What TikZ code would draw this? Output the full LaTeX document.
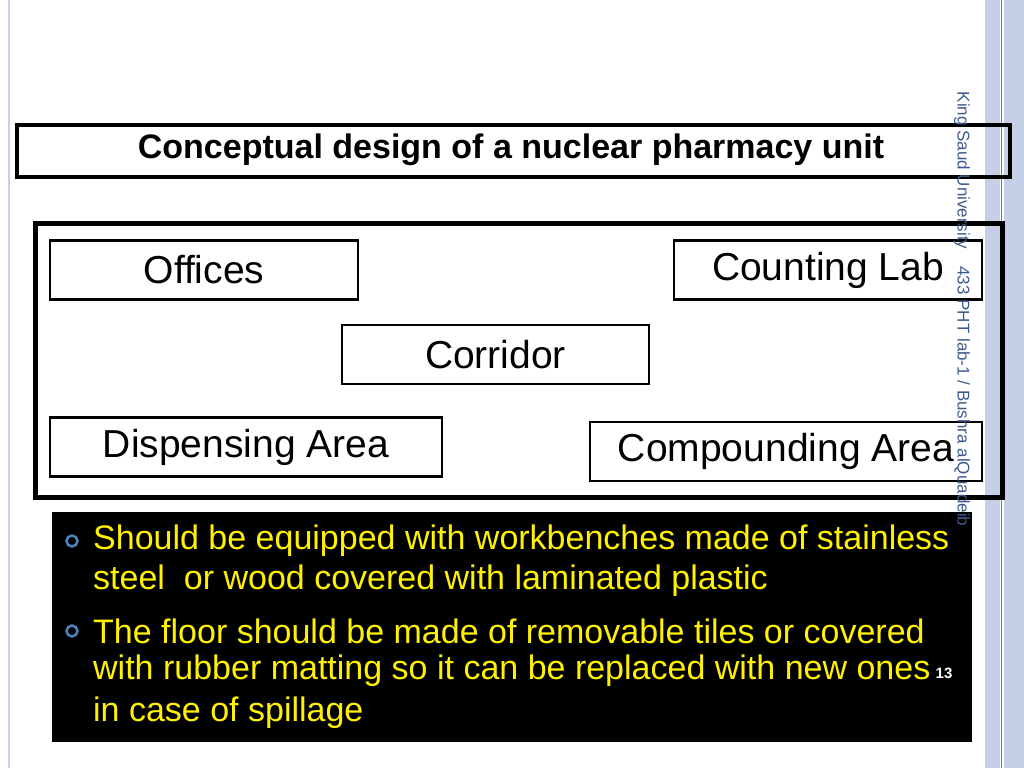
\documentclass[tikz,border=0pt]{standalone}
\usepackage{fontspec}
\setmainfont{Liberation Sans}
\definecolor{steel}{HTML}{4F81BD}
\definecolor{band}{HTML}{C5D0E6}
\definecolor{vtxt}{HTML}{3F5A8F}
\begin{document}
\begin{tikzpicture}[x=1pt,y=-1pt,
  room/.style={draw=black,line width=2.5pt,fill=white,font=\fontsize{39}{44}\selectfont,inner sep=0pt},
  bul/.style={text=yellow,font=\fontsize{34}{40}\selectfont,anchor=west,inner sep=0pt}]
\useasboundingbox (0,0) rectangle (1024,768);
\fill[white] (0,0) rectangle (1024,768);
\fill[band] (985,0) rectangle (1000,768);
\fill[band] (1004,0) rectangle (1024,768);
\draw[steel,line width=0.8pt] (1001,0) -- (1001,768);
\draw[band,line width=1.5pt] (9,0) -- (9,768);
\node[draw=black,line width=4pt,minimum width=993pt,minimum height=52pt,anchor=north west,inner sep=0pt] (title) at (15,123) {};
\node[font=\fontsize{34}{38}\selectfont\bfseries] (tt) at (511,150) {Conceptual design of a nuclear pharmacy unit};
\node[draw=black,line width=5pt,minimum width=967pt,minimum height=274pt,anchor=north west,inner sep=0pt] (outer) at (33,221) {};
\node[room,minimum width=308pt,minimum height=59pt] (off) at (204,270) {Offices};
\node[room,minimum width=308pt,minimum height=59pt] (cnt) at (828,270) {Counting Lab};
\node[room,minimum width=307pt,minimum height=59pt] (cor) at (495.5,354.5) {Corridor};
\node[room,minimum width=392pt,minimum height=59pt] (dis) at (246,447) {\raisebox{2pt}{Dispensing Area}};
\node[room,minimum width=392pt,minimum height=59pt] (cmp) at (786,451.5) {\raisebox{-2pt}{Compounding Area}};
\fill[black] (52,512) rectangle (972,742);
\node[bul] (b1) at (93,541) {Should be equipped with workbenches made of stainless};
\node[bul] (b1b) at (93,581) {steel\ \ or wood covered with laminated plastic};
\node[bul] (b2) at (93,631) {The floor should be made of removable tiles or covered};
\node[bul] (b2b) at (93,671) {with rubber matting so it can be replaced with new ones};
\node[bul] (b2c) at (93,713) {in case of spillage};
\draw[steel,line width=2.5pt] (72,541) circle (5.5pt);
\draw[steel,line width=2.5pt] (72,631) circle (5.5pt);
\node[text=white,font=\fontsize{15}{18}\selectfont\bfseries] (pg) at (944,673) {13};
\node[rotate=-90,text=vtxt,font=\fontsize{17}{20}\selectfont] (vt) at (962,309) {King Saud University\quad 433 PHT lab-1 / Bushra alQuadeib};
\end{tikzpicture}
\end{document}
